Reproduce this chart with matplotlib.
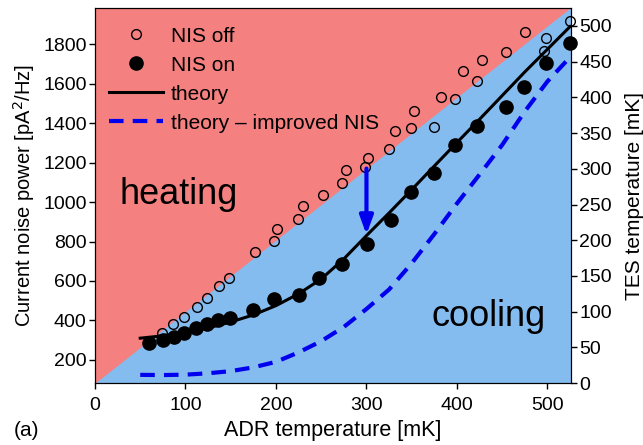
import matplotlib.pyplot as plt
import numpy as np

plt.rcParams['font.family'] = ['Liberation Sans', 'DejaVu Sans']

# NIS off (open circles): ADR temperature [mK], noise [pA^2/Hz]
off_T = [74, 86, 98, 113, 124, 137, 148, 177, 198, 201, 224, 230, 252, 273, 277,
         298, 302, 325, 331, 349, 352, 375, 382, 398, 407, 422, 428, 454, 475,
         496, 498, 525]
off_S = [337, 382, 418, 469, 514, 575, 616, 747, 803, 864, 916, 979, 1038, 1096, 1163,
         1178, 1222, 1268, 1361, 1374, 1462, 1379, 1534, 1524, 1666, 1616, 1719, 1760, 1861,
         1766, 1830, 1916]

# NIS on (filled circles)
on_T = [60, 75, 87, 98, 112, 124, 136, 149, 175, 198, 225, 248, 273, 301, 327,
        349, 375, 398, 422, 454, 474, 498, 525]
on_S = [284, 299, 315, 335, 360, 380, 400, 414, 452, 507, 529, 617, 685, 788, 910,
        1050, 1149, 1287, 1386, 1481, 1583, 1704, 1806]

# theory curves
th_T = [50, 75, 100, 125, 150, 175, 200, 225, 250, 275, 300, 325, 350, 375, 400,
        425, 450, 475, 500, 525]
th_S = [310, 322, 340, 362, 392, 428, 475, 535, 610, 712, 830, 945, 1063, 1183, 1302,
        1420, 1540, 1660, 1775, 1890]
imp_S = [124, 123, 125, 132, 143, 162, 190, 238, 295, 367, 458, 557, 690, 838, 993,
         1140, 1290, 1460, 1612, 1735]

fig = plt.figure(figsize=(6.43, 4.45), dpi=100)
ax = fig.add_axes([0.1477, 0.139, 0.7403, 0.843])
ax2 = ax.twinx()

# heating / cooling background on the TES-temperature axis
red = '#F4807F'
blue = '#85BCF0'
ax2.patch.set_visible(True)
ax2.patch.set_facecolor(red)
diag = np.array([0, 526])
ax2.fill_between(diag, 0, diag, color=blue, lw=0)
ax2.set_ylim(0, 525)
ax2.set_yticks(np.arange(0, 501, 50))
ax2.set_ylabel('TES temperature [mK]', fontsize=15, labelpad=9)
ax.set_zorder(ax2.get_zorder() + 1)
ax.patch.set_visible(False)

ax.plot(off_T, off_S, 'o', mfc='none', mec='black', mew=1.0, ms=7, label='NIS off', clip_on=False)
ax.plot(on_T, on_S, 'o', color='black', ms=9.5, label='NIS on', clip_on=False)
ax.plot(th_T, th_S, '-', color='black', lw=2.2, label='theory')
ax.plot(th_T, imp_S, '--', color='#0000EE', lw=3, dashes=(3.5, 2.2), label='theory – improved NIS')

ax.annotate('', xy=(300, 835), xytext=(300, 1170),
            arrowprops=dict(arrowstyle='-|>,head_width=0.4,head_length=1.1',
                            color='#0000EE', lw=3, shrinkA=0, shrinkB=0))

ax.text(27, 1036, 'heating', fontsize=26, va='center')
ax.text(498, 418, 'cooling', fontsize=26, va='center', ha='right')

ax.set_xlim(0, 526)
ax.set_ylim(82, 1984)
ax.set_xticks(np.arange(0, 501, 100))
ax.set_yticks(np.arange(200, 1801, 200))
ax.set_xlabel('ADR temperature [mK]', fontsize=15.5, labelpad=4)
ax.set_ylabel('Current noise power [pA$^2$/Hz]', fontsize=14.5, labelpad=4)
for a in (ax, ax2):
    a.tick_params(labelsize=14, length=4, width=1, pad=2)
ax.tick_params(axis='x', pad=6)

ax.legend(loc='upper left', frameon=False, fontsize=15, numpoints=1,
          handlelength=2.6, handletextpad=0.35, labelspacing=0.48,
          borderaxespad=0, borderpad=0, bbox_to_anchor=(0.03, 0.95))

fig.text(0.022, 0.02, '(a)', fontsize=15)

plt.savefig('out.png', dpi=100)
